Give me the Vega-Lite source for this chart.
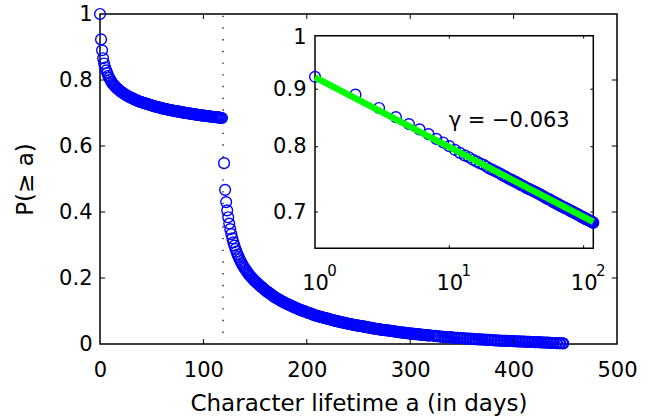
{
"$schema": "https://vega.github.io/schema/vega-lite/v6.json",
"width": 517, "height": 330,
"autosize": "none",
"padding": {"left": 100, "top": 14, "right": 42, "bottom": 75},
"background": "white",
"config": {"view": {"stroke": "black", "strokeWidth": 1.5}, "font": "DejaVu Sans"},
"datasets": {
"pts": [
{"a":0,"p":1.0},{"a":1,"p":0.923},{"a":2,"p":0.890},{"a":3,"p":0.866},{"a":4,"p":0.850},{"a":5,"p":0.838},{"a":6,"p":0.829},{"a":7,"p":0.821},{"a":8,"p":0.813},{"a":9,"p":0.807},
{"a":10,"p":0.801},{"a":11,"p":0.795},{"a":12,"p":0.790},{"a":13,"p":0.786},{"a":14,"p":0.783},{"a":15,"p":0.779},{"a":16,"p":0.776},{"a":17,"p":0.773},{"a":18,"p":0.771},{"a":19,"p":0.768},
{"a":20,"p":0.765},{"a":21,"p":0.763},{"a":22,"p":0.761},{"a":23,"p":0.759},{"a":24,"p":0.757},{"a":25,"p":0.7545},{"a":26,"p":0.753},{"a":27,"p":0.751},{"a":28,"p":0.749},{"a":29,"p":0.748},
{"a":30,"p":0.746},{"a":31,"p":0.745},{"a":32,"p":0.743},{"a":33,"p":0.742},{"a":34,"p":0.740},{"a":35,"p":0.739},{"a":36,"p":0.738},{"a":37,"p":0.736},{"a":38,"p":0.735},{"a":39,"p":0.734},
{"a":40,"p":0.733},{"a":41,"p":0.732},{"a":42,"p":0.731},{"a":43,"p":0.730},{"a":44,"p":0.729},{"a":45,"p":0.728},{"a":46,"p":0.727},{"a":47,"p":0.726},{"a":48,"p":0.725},{"a":49,"p":0.724},
{"a":50,"p":0.723},{"a":51,"p":0.722},{"a":52,"p":0.721},{"a":53,"p":0.720},{"a":54,"p":0.719},{"a":55,"p":0.719},{"a":56,"p":0.718},{"a":57,"p":0.717},{"a":58,"p":0.716},{"a":59,"p":0.715},
{"a":60,"p":0.714},{"a":61,"p":0.714},{"a":62,"p":0.713},{"a":63,"p":0.712},{"a":64,"p":0.712},{"a":65,"p":0.711},{"a":66,"p":0.710},{"a":67,"p":0.709},{"a":68,"p":0.709},{"a":69,"p":0.708},
{"a":70,"p":0.708},{"a":71,"p":0.707},{"a":72,"p":0.706},{"a":73,"p":0.706},{"a":74,"p":0.705},{"a":75,"p":0.705},{"a":76,"p":0.704},{"a":77,"p":0.704},{"a":78,"p":0.703},{"a":79,"p":0.702},
{"a":80,"p":0.702},{"a":81,"p":0.701},{"a":82,"p":0.701},{"a":83,"p":0.700},{"a":84,"p":0.700},{"a":85,"p":0.699},{"a":86,"p":0.699},{"a":87,"p":0.698},{"a":88,"p":0.698},{"a":89,"p":0.697},
{"a":90,"p":0.697},{"a":91,"p":0.696},{"a":92,"p":0.696},{"a":93,"p":0.695},{"a":94,"p":0.695},{"a":95,"p":0.694},{"a":96,"p":0.694},{"a":97,"p":0.693},{"a":98,"p":0.693},{"a":99,"p":0.692},
{"a":100,"p":0.692},{"a":101,"p":0.692},{"a":102,"p":0.691},{"a":103,"p":0.691},{"a":104,"p":0.690},{"a":105,"p":0.690},{"a":106,"p":0.690},{"a":107,"p":0.689},{"a":108,"p":0.689},{"a":109,"p":0.688},
{"a":110,"p":0.688},{"a":111,"p":0.688},{"a":112,"p":0.687},{"a":113,"p":0.687},{"a":114,"p":0.687},{"a":115,"p":0.686},{"a":116,"p":0.686},{"a":117,"p":0.685},{"a":118,"p":0.685},
{"a":120,"p":0.548},{"a":121,"p":0.467},{"a":122,"p":0.430},{"a":123,"p":0.405},{"a":124,"p":0.384},{"a":125,"p":0.365},{"a":126,"p":0.348},{"a":127,"p":0.333},{"a":128,"p":0.320},{"a":129,"p":0.308},
{"a":130,"p":0.298},{"a":131,"p":0.288},{"a":132,"p":0.280},{"a":133,"p":0.271},{"a":134,"p":0.264},{"a":135,"p":0.257},{"a":136,"p":0.251},{"a":137,"p":0.245},{"a":138,"p":0.239},{"a":139,"p":0.233},
{"a":140,"p":0.229},{"a":141,"p":0.224},{"a":142,"p":0.220},{"a":143,"p":0.215},{"a":144,"p":0.211},{"a":145,"p":0.207},{"a":146,"p":0.204},{"a":147,"p":0.200},{"a":148,"p":0.197},{"a":149,"p":0.193},
{"a":150,"p":0.190},{"a":151,"p":0.187},{"a":152,"p":0.185},{"a":153,"p":0.182},{"a":154,"p":0.179},{"a":155,"p":0.176},{"a":156,"p":0.173},{"a":157,"p":0.171},{"a":158,"p":0.168},{"a":159,"p":0.165},
{"a":160,"p":0.163},{"a":161,"p":0.160},{"a":162,"p":0.158},{"a":163,"p":0.156},{"a":164,"p":0.154},{"a":165,"p":0.151},{"a":166,"p":0.149},{"a":167,"p":0.147},{"a":168,"p":0.144},{"a":169,"p":0.142},
{"a":170,"p":0.140},{"a":171,"p":0.138},{"a":172,"p":0.137},{"a":173,"p":0.135},{"a":174,"p":0.133},{"a":175,"p":0.131},{"a":176,"p":0.129},{"a":177,"p":0.128},{"a":178,"p":0.126},{"a":179,"p":0.124},
{"a":180,"p":0.123},{"a":181,"p":0.121},{"a":182,"p":0.120},{"a":183,"p":0.119},{"a":184,"p":0.117},{"a":185,"p":0.116},{"a":186,"p":0.114},{"a":187,"p":0.113},{"a":188,"p":0.111},{"a":189,"p":0.110},
{"a":190,"p":0.109},{"a":191,"p":0.107},{"a":192,"p":0.106},{"a":193,"p":0.104},{"a":194,"p":0.103},{"a":195,"p":0.102},{"a":196,"p":0.101},{"a":197,"p":0.100},{"a":198,"p":0.099},{"a":199,"p":0.097},
{"a":200,"p":0.096},{"a":201,"p":0.095},{"a":202,"p":0.094},{"a":203,"p":0.093},{"a":204,"p":0.092},{"a":205,"p":0.091},{"a":206,"p":0.089},{"a":207,"p":0.088},{"a":208,"p":0.087},{"a":209,"p":0.086},
{"a":210,"p":0.085},{"a":211,"p":0.084},{"a":212,"p":0.083},{"a":213,"p":0.083},{"a":214,"p":0.082},{"a":215,"p":0.081},{"a":216,"p":0.080},{"a":217,"p":0.079},{"a":218,"p":0.078},{"a":219,"p":0.0775},
{"a":220,"p":0.077},{"a":221,"p":0.076},{"a":222,"p":0.075},{"a":223,"p":0.074},{"a":224,"p":0.073},{"a":225,"p":0.072},{"a":226,"p":0.0715},{"a":227,"p":0.071},{"a":228,"p":0.070},{"a":229,"p":0.069},
{"a":230,"p":0.0685},{"a":231,"p":0.068},{"a":232,"p":0.067},{"a":233,"p":0.066},{"a":234,"p":0.0655},{"a":235,"p":0.065},{"a":236,"p":0.0645},{"a":237,"p":0.064},{"a":238,"p":0.063},{"a":239,"p":0.062},
{"a":240,"p":0.0615},{"a":241,"p":0.061},{"a":242,"p":0.0605},{"a":243,"p":0.060},{"a":244,"p":0.059},{"a":245,"p":0.058},{"a":246,"p":0.0575},{"a":247,"p":0.057},{"a":248,"p":0.0565},{"a":249,"p":0.056},
{"a":250,"p":0.0555},{"a":251,"p":0.055},{"a":252,"p":0.0545},{"a":253,"p":0.054},{"a":254,"p":0.0535},{"a":255,"p":0.053},{"a":256,"p":0.0525},{"a":257,"p":0.052},{"a":258,"p":0.051},{"a":259,"p":0.0505},
{"a":260,"p":0.050},{"a":261,"p":0.0495},{"a":262,"p":0.049},{"a":263,"p":0.048},{"a":264,"p":0.0475},{"a":265,"p":0.047},{"a":266,"p":0.0465},{"a":267,"p":0.046},{"a":268,"p":0.0455},{"a":269,"p":0.045},
{"a":270,"p":0.0445},{"a":271,"p":0.044},{"a":272,"p":0.0435},{"a":273,"p":0.043},{"a":274,"p":0.0425},{"a":275,"p":0.042},{"a":276,"p":0.042},{"a":277,"p":0.0415},{"a":278,"p":0.041},{"a":279,"p":0.041},
{"a":280,"p":0.0405},{"a":281,"p":0.040},{"a":282,"p":0.0395},{"a":283,"p":0.039},{"a":284,"p":0.0385},{"a":285,"p":0.038},{"a":286,"p":0.0375},{"a":287,"p":0.037},{"a":288,"p":0.0365},{"a":289,"p":0.036},
{"a":290,"p":0.0355},{"a":291,"p":0.035},{"a":292,"p":0.0348},{"a":293,"p":0.0345},{"a":294,"p":0.0343},{"a":295,"p":0.034},{"a":296,"p":0.0335},{"a":297,"p":0.033},{"a":298,"p":0.0325},{"a":299,"p":0.032},
{"a":300,"p":0.0318},{"a":301,"p":0.0315},{"a":302,"p":0.0313},{"a":303,"p":0.031},{"a":304,"p":0.0305},{"a":305,"p":0.030},{"a":306,"p":0.0298},{"a":307,"p":0.0295},{"a":308,"p":0.0293},{"a":309,"p":0.029},
{"a":310,"p":0.0285},{"a":311,"p":0.028},{"a":312,"p":0.0278},{"a":313,"p":0.0275},{"a":314,"p":0.0273},{"a":315,"p":0.027},{"a":316,"p":0.0265},{"a":317,"p":0.026},{"a":318,"p":0.026},{"a":319,"p":0.026},
{"a":322,"p":0.025},{"a":324,"p":0.0245},{"a":325,"p":0.024},{"a":327,"p":0.0235},{"a":328,"p":0.023},{"a":330,"p":0.0225},{"a":331,"p":0.022},{"a":333,"p":0.0215},{"a":334,"p":0.021},{"a":336,"p":0.0207},
{"a":337,"p":0.0205},{"a":339,"p":0.0202},{"a":340,"p":0.020},{"a":342,"p":0.0195},{"a":343,"p":0.019},{"a":345,"p":0.0188},{"a":346,"p":0.0185},{"a":348,"p":0.0182},{"a":349,"p":0.018},{"a":351,"p":0.0175},
{"a":352,"p":0.017},{"a":354,"p":0.0167},{"a":355,"p":0.0165},{"a":357,"p":0.0162},{"a":358,"p":0.016},{"a":360,"p":0.0155},{"a":361,"p":0.015},{"a":363,"p":0.0147},{"a":364,"p":0.0145},{"a":366,"p":0.0142},
{"a":367,"p":0.014},{"a":369,"p":0.0137},{"a":370,"p":0.0135},{"a":372,"p":0.0132},{"a":373,"p":0.013},{"a":375,"p":0.0127},{"a":376,"p":0.0125},{"a":378,"p":0.0122},{"a":379,"p":0.012},{"a":381,"p":0.0115},
{"a":382,"p":0.011},{"a":384,"p":0.0107},{"a":385,"p":0.0105},{"a":387,"p":0.0102},{"a":388,"p":0.010},{"a":390,"p":0.0099},{"a":391,"p":0.0098},{"a":393,"p":0.0096},{"a":394,"p":0.0095},{"a":396,"p":0.0092},
{"a":397,"p":0.009},{"a":399,"p":0.0087},{"a":400,"p":0.0085},{"a":402,"p":0.0082},{"a":403,"p":0.008},{"a":405,"p":0.0078},{"a":406,"p":0.0077},{"a":408,"p":0.0074},{"a":409,"p":0.0073},{"a":411,"p":0.0071},
{"a":412,"p":0.007},{"a":414,"p":0.0067},{"a":415,"p":0.0065},{"a":417,"p":0.0062},{"a":418,"p":0.006},{"a":420,"p":0.0058},{"a":421,"p":0.0057},{"a":423,"p":0.0055},{"a":424,"p":0.0053},{"a":426,"p":0.0051},
{"a":427,"p":0.005},{"a":429,"p":0.0047},{"a":430,"p":0.0045},{"a":432,"p":0.0042},{"a":433,"p":0.004},{"a":435,"p":0.0037},{"a":436,"p":0.0035},{"a":438,"p":0.0032},{"a":439,"p":0.003},{"a":441,"p":0.0028},
{"a":442,"p":0.0027},{"a":444,"p":0.0024},{"a":445,"p":0.0023},{"a":447,"p":0.0021},{"a":448,"p":0.002}
],
"fit": [{"a":1,"p":0.922},{"a":118,"p":0.686}],
"mxt": [{"v":100},{"v":200},{"v":300},{"v":400}],
"myt": [{"v":0.2},{"v":0.4},{"v":0.6},{"v":0.8}],
"ixt": [{"v":10},{"v":100}],
"iyt": [{"v":0.7},{"v":0.8},{"v":0.9}],
"exps": [{"a":1,"e":"0"},{"a":10,"e":"1"},{"a":100,"e":"2"}],
"ibox": [{"x1":1,"x2":118,"y1":0.65,"y2":1.004}],
"gam": [{"a":27.9,"p":0.8335,"t":"γ = −0.063"}]
},
"layer": [
{
"layer": [
{"data": {"name": "pts"},
 "mark": {"type": "point", "shape": "circle", "filled": false, "stroke": "#0000ff", "strokeWidth": 1.4, "size": 115, "opacity": 1},
 "encoding": {
  "x": {"field": "a", "type": "quantitative",
        "scale": {"domain": [0, 500], "nice": false, "zero": false},
        "axis": {"values": [0,100,200,300,400,500], "ticks": false, "domain": false, "grid": false, "tickSize": 0,
                 "labelFontSize": 21, "labelColor": "black", "labelPadding": 32.7, "labelBaseline": "alphabetic",
                 "labelFlush": false, "labelOverlap": false,
                 "title": "Character lifetime a (in days)", "titleFontSize": 23, "titleFontWeight": "normal", "titleColor": "black",
                 "titleX": 258.5, "titleY": 66, "titleBaseline": "alphabetic", "titleAlign": "center"}},
  "y": {"field": "p", "type": "quantitative",
        "scale": {"domain": [0, 1], "nice": false, "zero": false},
        "axis": {"values": [0,0.2,0.4,0.6,0.8,1], "format": ".1~f", "ticks": false, "domain": false, "grid": false, "tickSize": 0,
                 "labelFontSize": 21, "labelColor": "black", "labelPadding": 8, "labelFlush": false, "labelOverlap": false,
                 "title": "P(≥ a)", "titleFontSize": 23, "titleFontWeight": "normal", "titleColor": "black",
                 "titleX": -75, "titleY": 165, "titleAngle": 270, "titleBaseline": "middle", "titleAlign": "center"}}
 }},
{"data": {"values": [{"v": 119}]},
 "mark": {"type": "rule", "stroke": "#222", "strokeWidth": 1.4, "strokeDash": [1.4, 10.3]},
 "encoding": {"x": {"field": "v", "type": "quantitative"}, "y": {"datum": 0.995}, "y2": {"datum": 0}}},
{"data": {"name": "mxt"},
 "mark": {"type": "rule", "stroke": "black", "strokeWidth": 1},
 "encoding": {"x": {"field": "v", "type": "quantitative"}, "y": {"datum": 0}, "y2": {"datum": 0.015}}},
{"data": {"name": "mxt"},
 "mark": {"type": "rule", "stroke": "black", "strokeWidth": 1},
 "encoding": {"x": {"field": "v", "type": "quantitative"}, "y": {"datum": 1}, "y2": {"datum": 0.985}}},
{"data": {"name": "myt"},
 "mark": {"type": "rule", "stroke": "black", "strokeWidth": 1},
 "encoding": {"y": {"field": "v", "type": "quantitative"}, "x": {"datum": 0}, "x2": {"datum": 5}}},
{"data": {"name": "myt"},
 "mark": {"type": "rule", "stroke": "black", "strokeWidth": 1},
 "encoding": {"y": {"field": "v", "type": "quantitative"}, "x": {"datum": 500}, "x2": {"datum": 495}}}
]
},
{
"layer": [
{"data": {"name": "ibox"},
 "mark": {"type": "rect", "fill": "white", "stroke": "black", "strokeWidth": 1.5},
 "encoding": {
  "x": {"field": "x1", "type": "quantitative",
        "scale": {"type": "log", "domain": [1, 118], "range": [215, 493.3], "nice": false},
        "axis": {"orient": "bottom", "offset": -95.7, "values": [1,10,100], "labelExpr": "'10'", "labelDx": -4,
                 "ticks": false, "tickSize": 0, "domain": false, "grid": false, "labelFontSize": 21, "labelColor": "black",
                 "labelPadding": 40.7, "labelBaseline": "alphabetic", "labelFlush": false, "labelOverlap": false, "title": null}},
  "x2": {"field": "x2"},
  "y": {"field": "y1", "type": "quantitative",
        "scale": {"type": "log", "domain": [0.65, 1.004], "range": [234.3, 21.7], "nice": false},
        "axis": {"orient": "left", "offset": -215, "values": [0.7,0.8,0.9,1], "format": ".1~f",
                 "ticks": false, "tickSize": 0, "domain": false, "grid": false, "labelFontSize": 21, "labelColor": "black",
                 "labelPadding": 9, "labelFlush": false, "labelOverlap": false, "title": null}},
  "y2": {"field": "y2"}
 }},
{"data": {"name": "pts"},
 "transform": [{"filter": "datum.a >= 1 && datum.a <= 118"}],
 "mark": {"type": "point", "shape": "circle", "filled": false, "stroke": "#0000ff", "strokeWidth": 1.4, "size": 115, "opacity": 1},
 "encoding": {"x": {"field": "a", "type": "quantitative"}, "y": {"field": "p", "type": "quantitative"}}},
{"data": {"name": "fit"},
 "mark": {"type": "line", "stroke": "#00ff00", "strokeWidth": 6.5, "strokeCap": "butt"},
 "encoding": {"x": {"field": "a", "type": "quantitative"}, "y": {"field": "p", "type": "quantitative"}}},
{"data": {"name": "ixt"},
 "mark": {"type": "rule", "stroke": "black", "strokeWidth": 1},
 "encoding": {"x": {"field": "v", "type": "quantitative"}, "y": {"datum": 0.65}, "y2": {"datum": 0.654}}},
{"data": {"name": "ixt"},
 "mark": {"type": "rule", "stroke": "black", "strokeWidth": 1},
 "encoding": {"x": {"field": "v", "type": "quantitative"}, "y": {"datum": 1.004}, "y2": {"datum": 0.998}}},
{"data": {"name": "iyt"},
 "mark": {"type": "rule", "stroke": "black", "strokeWidth": 1},
 "encoding": {"y": {"field": "v", "type": "quantitative"}, "x": {"datum": 1}, "x2": {"datum": 1.053}}},
{"data": {"name": "iyt"},
 "mark": {"type": "rule", "stroke": "black", "strokeWidth": 1},
 "encoding": {"y": {"field": "v", "type": "quantitative"}, "x": {"datum": 118}, "x2": {"datum": 112.1}}},
{"data": {"name": "exps"},
 "mark": {"type": "text", "fontSize": 15, "color": "black", "align": "center", "baseline": "alphabetic", "dx": 17},
 "encoding": {"x": {"field": "a", "type": "quantitative"}, "y": {"datum": 0.6142}, "text": {"field": "e"}}},
{"data": {"name": "gam"},
 "mark": {"type": "text", "fontSize": 21, "color": "black", "align": "center", "baseline": "alphabetic"},
 "encoding": {"x": {"field": "a", "type": "quantitative"}, "y": {"field": "p", "type": "quantitative"}, "text": {"field": "t"}}}
]
}
],
"resolve": {"scale": {"x": "independent", "y": "independent"}, "axis": {"x": "independent", "y": "independent"}}
}
